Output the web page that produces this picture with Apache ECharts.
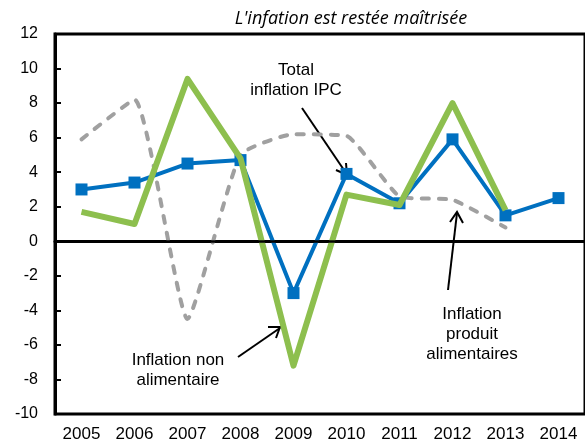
<!DOCTYPE html>
<html>
<head>
<meta charset="utf-8">
<script src="https://cdn.jsdelivr.net/npm/echarts@6/dist/echarts.min.js"></script>
<style>
html,body{margin:0;padding:0;background:#fff;}
#c{width:585px;height:448px;}
</style>
</head>
<body>
<div id="c"></div>
<script>
const years = ['2005','2006','2007','2008','2009','2010','2011','2012','2013','2014'];
const totalIPC = [3.0, 3.4, 4.5, 4.7, -3.0, 3.9, 2.2, 5.9, 1.5, 2.5];
const nonAlim = [1.7, 1.0, 9.4, 4.8, -7.2, 2.7, 2.1, 8.0, 1.8, null];
const prodAlim = [5.9, 8.2, -4.5, 5.0, 6.2, 6.1, 2.6, 2.4, 0.8, null];
const yTicks = {min: -10, max: 12, interval: 2};

const chart = echarts.init(document.getElementById('c'));
const font = 'Liberation Sans, Arial, sans-serif';
chart.setOption({
  animation: false,
  backgroundColor: '#fff',
  title: {
    text: "L'infation est restée maîtrisée",
    left: 346, top: 5, textAlign: 'center',
    textStyle: {fontFamily: 'Open Sans, sans-serif', fontStyle: 'italic', fontWeight: 'normal', fontSize: 18, color: '#000'}
  },
  grid: {left: 55, top: 34, width: 533, bottom: 34, show: true, borderColor: '#000', borderWidth: 3, backgroundColor: 'transparent'},
  xAxis: {
    type: 'category', data: years, boundaryGap: true,
    axisLine: {show: true, lineStyle: {color: '#000', width: 3}},
    axisTick: {show: false},
    axisLabel: {color: '#000', fontFamily: font, fontSize: 17, margin: 12, interval: 0},
    splitLine: {show: false}
  },
  yAxis: {
    type: 'value', min: yTicks.min, max: yTicks.max, interval: yTicks.interval,
    axisLine: {show: true, lineStyle: {color: '#000', width: 3}},
    axisTick: {show: true, inside: true, length: 6, lineStyle: {color: '#000', width: 2}},
    axisLabel: {color: '#000', fontFamily: font, fontSize: 16, margin: 17},
    splitLine: {show: false}
  },
  series: [
    {
      type: 'line', data: prodAlim, smooth: 0.15, symbol: 'none', z: 2,
      lineStyle: {color: '#A0A0A0', width: 4, type: [7, 10], cap: 'round'},
      markLine: {
        silent: true, symbol: 'none', label: {show: false},
        lineStyle: {color: '#000', width: 2.5, type: 'solid'},
        data: [{yAxis: 0}]
      }
    },
    {
      type: 'line', data: totalIPC, symbol: 'rect', symbolSize: 12, z: 3,
      itemStyle: {color: '#0070C0'},
      lineStyle: {color: '#0070C0', width: 4}
    },
    {
      type: 'line', data: nonAlim, symbol: 'none', z: 4,
      lineStyle: {color: '#8DBF4E', width: 6, join: 'round'}
    }
  ],
  graphic: [
    {type: 'text', style: {x: 296, y: 60, text: 'Total\ninflation IPC', textAlign: 'center', font: '17px ' + font, lineHeight: 20, fill: '#000'}},
    {type: 'line', shape: {x1: 302, y1: 108, x2: 346, y2: 173}, style: {stroke: '#000', lineWidth: 2}},
    {type: 'polyline', shape: {points: [[336, 170], [347, 175], [346, 163]]}, style: {stroke: '#000', lineWidth: 2, fill: null}},

    {type: 'text', style: {x: 178, y: 350, text: 'Inflation non\nalimentaire', textAlign: 'center', font: '17px ' + font, lineHeight: 20, fill: '#000'}},
    {type: 'line', shape: {x1: 238, y1: 357, x2: 280, y2: 328}, style: {stroke: '#000', lineWidth: 2}},
    {type: 'polyline', shape: {points: [[268, 327], [280, 327], [276, 338]]}, style: {stroke: '#000', lineWidth: 2, fill: null}},

    {type: 'text', style: {x: 472, y: 304, text: 'Inflation\nproduit\nalimentaires', textAlign: 'center', font: '17px ' + font, lineHeight: 20, fill: '#000'}},
    {type: 'line', shape: {x1: 448, y1: 290, x2: 457, y2: 213}, style: {stroke: '#000', lineWidth: 2}},
    {type: 'polyline', shape: {points: [[450, 222], [457, 212], [463, 223]]}, style: {stroke: '#000', lineWidth: 2, fill: null}}
  ]
});
</script>
</body>
</html>
